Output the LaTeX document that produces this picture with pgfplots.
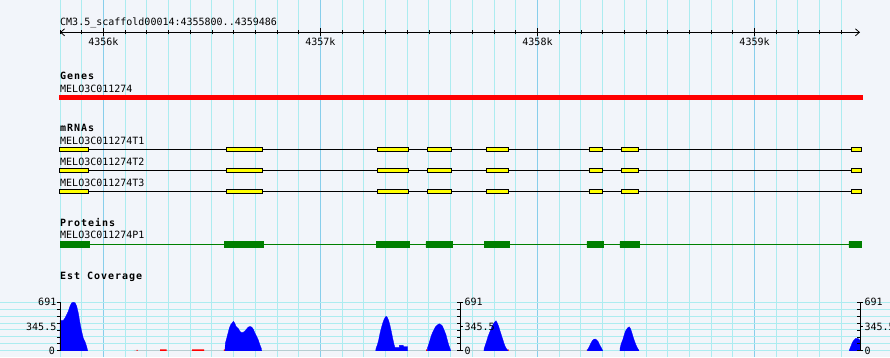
\documentclass[border=0pt]{standalone}
\usepackage{pgfplots}
\pgfplotsset{compat=1.18}
\usetikzlibrary{arrows.meta}
\usepackage{fontspec}
\newfontfamily\monof{DejaVu Sans Mono}
\newfontfamily\hdrf{DejaVu Sans Mono Bold}[LetterSpace=9.8]
\newcommand\sm{\monof\fontsize{10}{12}\selectfont}
\newcommand\hd{\hdrf\fontsize{10}{12}\selectfont}
\definecolor{bgc}{RGB}{242,245,250}
\definecolor{mingrid}{RGB}{172,236,240}
\definecolor{majgrid}{RGB}{135,206,235}
\definecolor{exy}{RGB}{255,255,0}
\definecolor{protg}{RGB}{0,128,0}
\definecolor{covb}{RGB}{0,0,255}
\definecolor{genr}{RGB}{255,0,0}
% exon box: start, end, ytop, ybottom (pixel rows)
\newcommand\exon[4]{\addplot[draw=black, line width=0.8pt, fill=exy] coordinates {(#1,#3) (#2,#3) (#2,#4) (#1,#4) (#1,#3)};}
\newcommand\pbox[2]{\addplot[draw=protg, line width=0.5pt, fill=protg] coordinates {(#1,241.7) (#2,241.7) (#2,247.3) (#1,247.3) (#1,241.7)};}
\newcommand\transcript[3]{%
  \addplot[black, line width=0.8pt] coordinates {(0,#1) (3686,#1)};
  \exon{-3}{130}{#2}{#3}
  \exon{768}{934}{#2}{#3}
  \exon{1464}{1607}{#2}{#3}
  \exon{1694}{1805}{#2}{#3}
  \exon{1963}{2067}{#2}{#3}
  \exon{2437}{2501}{#2}{#3}
  \exon{2588}{2666}{#2}{#3}
  \exon{3645}{3694}{#2}{#3}
}
\begin{document}
\begin{tikzpicture}
\useasboundingbox (0,0) rectangle (890pt,357pt);
% ---------------- main track area (x: bp from 4355800, y: pixel rows) ----------------
\begin{axis}[at={(0pt,0pt)}, anchor=south west, scale only axis,
  width=890pt, height=357pt,
  xmin=-276.45, xmax=3824.2, ymin=0, ymax=357, y dir=reverse, clip=false,
  axis line style={draw=none}, axis background/.style={fill=bgc},
  xtick={200,1200,2200,3200},
  minor xtick={0,100,300,400,500,600,700,800,900,1000,1100,1300,1400,1500,1600,1700,1800,1900,2000,2100,2300,2400,2500,2600,2700,2800,2900,3000,3100,3300,3400,3500,3600},
  xticklabels={}, ytick=\empty,
  major tick length=0pt, minor tick length=0pt,
  xmajorgrids, xminorgrids,
  major grid style={majgrid, line width=1pt},
  minor grid style={mingrid, line width=1pt}]
% coverage horizontal grid
\pgfplotsinvokeforeach{350.8,343.86,336.91,329.97,323.03,316.09,309.14,302.2}{
  \draw[mingrid, line width=1pt] (axis cs:-276.45,#1) -- (axis cs:3824.2,#1);
}
% ruler
\draw[black, line width=0.8pt, {Straight Barb[length=4pt,width=7pt]}-{Straight Barb[length=4pt,width=7pt]}] (axis cs:0,32.3) -- (axis cs:3686,32.3);
\node[anchor=base west, inner sep=0pt, font=\sm] at (axis cs:0,25) {CM3.5\_scaffold00014:4355800..4359486};
% Genes
\node[anchor=base west, inner sep=0pt, font=\hd] at (axis cs:0,79) {Genes};
\node[anchor=base west, inner sep=0pt, font=\sm] at (axis cs:0,92) {MELO3C011274};
\addplot[draw=none, fill=genr] coordinates {(-4.6,95) (3698.5,95) (3698.5,100) (-4.6,100)};
% mRNAs
\node[anchor=base west, inner sep=0pt, font=\hd] at (axis cs:0,131.7) {mRNAs};
\node[anchor=base west, inner sep=0pt, font=\sm] at (axis cs:0,144) {MELO3C011274T1};
\node[anchor=base west, inner sep=0pt, font=\sm] at (axis cs:0,165) {MELO3C011274T2};
\node[anchor=base west, inner sep=0pt, font=\sm] at (axis cs:0,186) {MELO3C011274T3};
\transcript{149.3}{147.2}{151.4}
\transcript{170.3}{168.2}{172.4}
\transcript{191.3}{189.2}{193.4}
% Proteins
\node[anchor=base west, inner sep=0pt, font=\hd] at (axis cs:0,226.7) {Proteins};
\node[anchor=base west, inner sep=0pt, font=\sm] at (axis cs:0,238.3) {MELO3C011274P1};
\addplot[protg, line width=0.9pt] coordinates {(0,244.4) (3686,244.4)};
\pbox{0}{134}
\pbox{756}{935}
\pbox{1456}{1608}
\pbox{1686}{1806}
\pbox{1954}{2069}
\pbox{2428}{2502}
\pbox{2580}{2668}
\pbox{3635}{3691}
% Est coverage title
\node[anchor=base west, inner sep=0pt, font=\hd] at (axis cs:0,279) {Est Coverage};
\end{axis}
% ---------------- ruler ticks ----------------
\begin{axis}[at={(60pt,324.7pt)}, anchor=south west, scale only axis,
  width=800pt, height=10pt, xmin=0, xmax=3686, ymin=0, ymax=1,
  axis line style={draw=none}, ytick=\empty,
  xtick={200,1200,2200,3200}, xticklabels={4356k,4357k,4358k,4359k},
  minor xtick={0,100,...,3600},
  xtick pos=left, tick align=center,
  major tick length=8pt, minor tick length=4pt,
  tick style={black, line width=0.8pt},
  xticklabel style={font=\sm, inner sep=1pt}]
\end{axis}
% ---------------- Est coverage ----------------
\begin{axis}[at={(60pt,6.2pt)}, anchor=south west, scale only axis,
  width=800pt, height=48.6pt, xmin=0, xmax=3686, ymin=0, ymax=691, clip=false,
  axis line style={draw=none}, xtick=\empty, ytick=\empty]
\addplot[const plot, draw=none, fill=genr] coordinates {(340,0) (353.4,15) (358,0) (460.8,20) (491.5,0) (608.2,20) (663.5,0) (755.6,20) (761.7,0) (1686.4,20) (1692.3,0) (2061,20) (2067,0) (2427,20) (2430,0)} \closedcycle;
\addplot[draw=covb, line width=0.3pt, fill=covb] coordinates {(0,432) (15.2,432) (23.0,466) (30.9,514) (38.2,562) (46.1,634) (53.9,682) (61.3,691) (69.1,685) (76.9,634) (84.3,538) (92.2,394) (100.0,274) (107.4,178) (115.2,130) (123.0,58) (127.6,0)} \closedcycle;
\addplot[draw=covb, line width=0.3pt, fill=covb] coordinates {(760.2,0) (761.7,106) (768.1,178) (774.1,250) (780.1,322) (786.5,370) (792.5,394) (798.5,418) (805.0,394) (810.9,346) (816.9,331) (823.4,308) (829.4,274) (837.2,259) (844.6,264) (852.4,283) (860.2,312) (867.6,337) (875.4,346) (883.3,337) (890.6,308) (898.5,250) (906.3,202) (913.7,154) (921.5,82) (927.5,34) (929.3,0)} \closedcycle;
\addplot[draw=covb, line width=0.3pt, fill=covb] coordinates {(1454.6,0) (1456.0,34) (1462.0,82) (1468.4,154) (1474.4,250) (1480.4,322) (1486.9,394) (1492.8,442) (1498.8,481) (1503.4,490) (1508.0,476) (1514.5,428) (1520.5,360) (1526.5,274) (1532.9,178) (1538.9,92) (1542.2,58) (1543.5,48) (1563.3,48) (1563.8,77) (1581.7,77) (1582.2,58) (1602.0,58) (1602.1,0)} \closedcycle;
\addplot[draw=covb, line width=0.3pt, fill=covb] coordinates {(1692.3,0) (1692.4,34) (1698.7,92) (1704.8,154) (1710.8,216) (1717.2,264) (1723.2,302) (1729.2,337) (1735.7,360) (1741.6,374) (1747.6,384) (1754.1,374) (1760.1,360) (1766.1,322) (1772.5,274) (1778.5,226) (1784.5,154) (1791.0,82) (1797.0,34) (1800.2,0)} \closedcycle;
\addplot[draw=covb, line width=0.3pt, fill=covb] coordinates {(1953.5,0) (1953.6,24) (1959.6,82) (1966.0,140) (1972.0,202) (1978.0,250) (1984.5,298) (1990.4,346) (1996.4,380) (2002.9,409) (2008.9,428) (2014.9,394) (2021.3,346) (2027.3,283) (2033.3,226) (2039.8,164) (2045.7,106) (2051.7,58) (2058.2,24) (2064.2,0)} \closedcycle;
\addplot[draw=covb, line width=0.3pt, fill=covb] coordinates {(2429.4,0) (2429.5,10) (2436.0,43) (2442.0,82) (2448.0,120) (2454.4,150) (2460.4,164) (2466.4,168) (2472.9,154) (2478.9,135) (2484.9,92) (2491.3,58) (2497.3,24) (2500.5,0)} \closedcycle;
\addplot[draw=covb, line width=0.3pt, fill=covb] coordinates {(2580.1,0) (2580.2,34) (2586.2,106) (2592.7,154) (2598.6,216) (2604.6,274) (2611.1,308) (2617.1,331) (2623.1,341) (2629.5,308) (2635.5,250) (2641.5,187) (2648.0,130) (2654.0,82) (2660.0,43) (2666.4,10) (2667.7,0)} \closedcycle;
\addplot[draw=covb, line width=0.3pt, fill=covb] coordinates {(3636.6,0) (3636.7,10) (3643.1,58) (3649.1,106) (3655.1,140) (3661.6,164) (3667.5,178) (3673.5,178) (3680.0,168) (3684.6,154) (3686,154)} \closedcycle;
% y axes
\pgfplotsinvokeforeach{0,1843,3686}{
  \draw[black, line width=0.8pt] (axis cs:#1,0) -- (axis cs:#1,691);
}
\pgfplotsinvokeforeach{0,98.71,197.43,296.14,394.86,493.57,592.29,691}{
  \draw[black, line width=0.8pt] (axis cs:0,#1) -- ++(-3pt,0pt);
  \draw[black, line width=0.8pt] (axis cs:1843,#1) -- ++(-3pt,0pt);
  \draw[black, line width=0.8pt] (axis cs:3686,#1) -- ++(-3pt,0pt);
}
\pgfplotsinvokeforeach{0,345.5,691}{
  \draw[black, line width=0.8pt] (axis cs:1843,#1) -- ++(3pt,0pt);
  \draw[black, line width=0.8pt] (axis cs:3686,#1) -- ++(3pt,0pt);
}
\node[anchor=east, inner sep=0pt, xshift=-3.5pt, font=\sm] at (axis cs:0,691) {691};
\node[anchor=east, inner sep=0pt, xshift=-3.5pt, font=\sm] at (axis cs:0,345.5) {345.5};
\node[anchor=east, inner sep=0pt, xshift=-5pt, font=\sm] at (axis cs:0,0) {0};
\node[anchor=west, inner sep=0pt, xshift=4.3pt, font=\sm] at (axis cs:1843,691) {691};
\node[anchor=west, inner sep=0pt, xshift=4.3pt, font=\sm] at (axis cs:1843,345.5) {345.5};
\node[anchor=west, inner sep=0pt, xshift=4.3pt, font=\sm] at (axis cs:1843,0) {0};
\node[anchor=west, inner sep=0pt, xshift=4.3pt, font=\sm] at (axis cs:3686,691) {691};
\node[anchor=west, inner sep=0pt, xshift=4.3pt, font=\sm] at (axis cs:3686,345.5) {345.5};
\node[anchor=west, inner sep=0pt, xshift=4.3pt, font=\sm] at (axis cs:3686,0) {0};
\end{axis}
\end{tikzpicture}
\end{document}
